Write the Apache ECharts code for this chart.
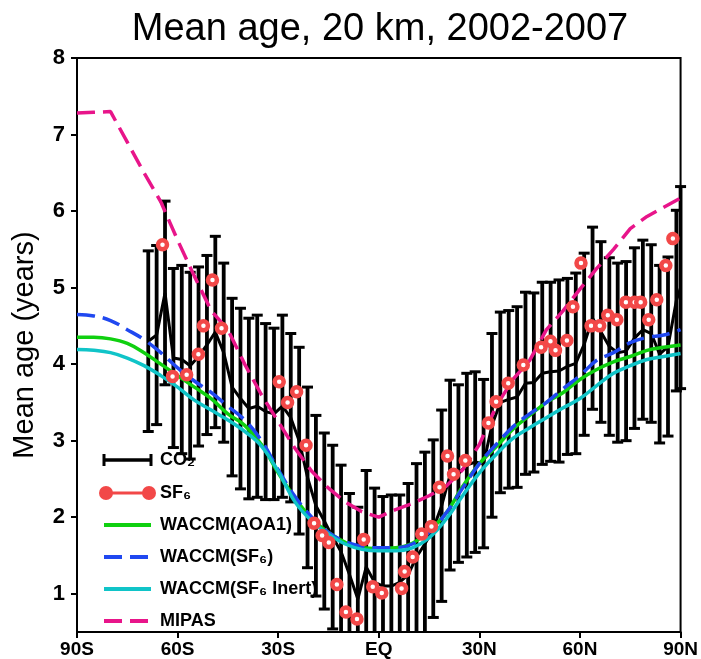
<!DOCTYPE html>
<html><head><meta charset="utf-8">
<script src="https://cdn.jsdelivr.net/npm/echarts@6/dist/echarts.min.js"></script>
<style>html,body{margin:0;padding:0;background:#fff}#c{width:701px;height:659px}</style>
</head><body><div id="c"></div>
<script>
// ---- axis ticks ----
const xTickValues = [-90, -60, -30, 0, 30, 60, 90];
const xTickLabels = ['90S', '60S', '30S', 'EQ', '30N', '60N', '90N'];
const yTickValues = [1, 2, 3, 4, 5, 6, 7, 8];

// ---- CO2 (mean and half-width of error bar) ----
const co2Lat = [-68.75, -66.25, -63.75, -61.25, -58.75, -56.25, -53.75, -51.25, -48.75, -46.25,
  -43.75, -41.25, -38.75, -36.25, -33.75, -31.25, -28.75, -26.25, -23.75, -21.25,
  -18.75, -16.25, -13.75, -11.25, -8.75, -6.25, -3.75, -1.25, 1.25, 3.75,
  6.25, 8.75, 11.25, 13.75, 16.25, 18.75, 21.25, 23.75, 26.25, 28.75,
  31.25, 33.75, 36.25, 38.75, 41.25, 43.75, 46.25, 48.75, 51.25, 53.75,
  56.25, 58.75, 61.25, 63.75, 66.25, 68.75, 71.25, 73.75, 76.25, 78.75,
  81.25, 83.75, 86.25, 88.75, 90];
const co2Mean = [4.30, 4.38, 4.93, 4.08, 4.06, 3.98, 4.10, 4.25, 4.42, 4.15,
  3.70, 3.55, 3.42, 3.45, 3.38, 3.35, 3.45, 3.30, 3.00, 2.52,
  2.15, 1.95, 1.74, 1.55, 1.25, 0.93, 1.35, 1.15, 1.10, 1.10,
  1.15, 1.25, 1.48, 1.65, 1.85, 2.15, 2.55, 2.57, 2.68, 2.72,
  2.70, 3.20, 3.50, 3.54, 3.57, 3.75, 3.76, 3.88, 3.90, 3.91,
  3.97, 4.01, 4.26, 4.60, 4.42, 4.23, 4.15, 4.17, 4.34, 4.45,
  4.40, 4.13, 4.23, 4.83, 5.00];
const co2Err = [1.18, 1.17, 1.20, 1.17, 1.23, 1.22, 1.17, 1.17, 1.25, 1.17,
  1.16, 1.18, 1.18, 1.19, 1.15, 1.12, 1.19, 1.10, 1.22, 1.18,
  1.18, 1.15, 1.20, 1.13, 1.06, 1.20, 1.26, 1.23, 1.17, 1.19,
  1.14, 1.19, 1.22, 1.20, 1.16, 1.25, 1.24, 1.16, 1.20, 1.18,
  1.10, 1.20, 1.18, 1.16, 1.18, 1.19, 1.17, 1.19, 1.17, 1.19,
  1.15, 1.18, 1.19, 1.19, 1.18, 1.16, 1.17, 1.17, 1.18, 1.17,
  1.16, 1.16, 1.17, 1.18, 1.32];

// ---- SF6 observations ----
const sf6Lat = [-64.5, -61.5, -57.3, -53.8, -52.3, -49.6, -46.9, -29.7, -27.2, -24.5,
  -21.7, -19.3, -16.9, -14.9, -12.5, -9.8, -6.5, -4.5, -1.8, 0.9,
  6.8, 7.7, 10.1, 12.8, 15.7, 18.1, 20.5, 22.3, 25.8, 32.7,
  35.0, 38.6, 43.1, 48.4, 51.2, 52.7, 56.1, 57.9, 60.3, 63.3,
  65.9, 68.3, 71.0, 73.7, 76.3, 78.1, 80.5, 82.9, 85.6, 87.7];
const sf6Val = [5.56, 3.84, 3.86, 4.13, 4.50, 5.10, 4.47, 3.77, 3.50, 3.64,
  2.94, 1.92, 1.76, 1.67, 1.12, 0.76, 0.67, 1.71, 1.09, 1.01,
  1.07, 1.29, 1.48, 1.78, 1.88, 2.39, 2.80, 2.56, 2.74, 3.23,
  3.51, 3.75, 3.99, 4.22, 4.30, 4.18, 4.31, 4.75, 5.32, 4.50,
  4.50, 4.64, 4.58, 4.81, 4.81, 4.81, 4.58, 4.84, 5.29, 5.64];

// ---- model curves and MIPAS ----
const modelLat = [-90, -85, -80, -75, -70, -65, -60, -55, -50, -45, -40, -35, -30, -25, -20, -15, -10, -5, 0,
  5, 10, 15, 20, 25, 30, 35, 40, 45, 50, 55, 60, 65, 70, 75, 80, 85, 90];
const waccmAoa1 = [4.35, 4.35, 4.33, 4.27, 4.15, 4.00, 3.85, 3.70, 3.55, 3.35, 3.20, 2.95, 2.58, 2.25, 1.98, 1.80, 1.67, 1.60, 1.59,
  1.60, 1.66, 1.82, 2.05, 2.40, 2.70, 2.92, 3.15, 3.33, 3.50, 3.63, 3.80, 3.93, 4.03, 4.10, 4.18, 4.22, 4.25];
const waccmSf6 = [4.65, 4.63, 4.57, 4.45, 4.32, 4.15, 3.95, 3.78, 3.63, 3.45, 3.27, 3.00, 2.62, 2.27, 2.00, 1.80, 1.68, 1.62, 1.60,
  1.60, 1.65, 1.80, 2.05, 2.38, 2.70, 2.95, 3.18, 3.35, 3.50, 3.68, 3.85, 4.05, 4.15, 4.28, 4.35, 4.38, 4.45];
const waccmSf6Inert = [4.19, 4.18, 4.15, 4.08, 3.98, 3.85, 3.70, 3.53, 3.40, 3.27, 3.12, 2.93, 2.60, 2.20, 1.95, 1.78, 1.65, 1.58, 1.56,
  1.56, 1.60, 1.73, 1.97, 2.28, 2.58, 2.82, 3.03, 3.17, 3.30, 3.43, 3.55, 3.72, 3.88, 3.98, 4.06, 4.10, 4.14];
const mipas = [7.28, 7.29, 7.30, 6.90, 6.50, 6.12, 5.62, 5.15, 4.70, 4.45, 4.00, 3.60, 3.25, 2.90, 2.60, 2.38, 2.20, 2.07, 2.00,
  2.10, 2.18, 2.28, 2.40, 2.62, 2.95, 3.45, 3.80, 4.05, 4.45, 4.70, 4.98, 5.25, 5.50, 5.77, 5.93, 6.05, 6.17];

const C_RED = '#f24848', C_GREEN = '#10d010', C_BLUE = '#2048f0', C_CYAN = '#10c4c8', C_MAG = '#e8158a';
const FONT = 'Liberation Sans';

const pairs = (xs, ys) => xs.map((x, i) => [x, ys[i]]);
const co2Bars = co2Lat.map((l, i) => [l, co2Mean[i] - co2Err[i], co2Mean[i] + co2Err[i]]);

const chart = echarts.init(document.getElementById('c'), null, {renderer: 'canvas'});

const legendRows = [
  {y: 460, text: 'CO₂'},
  {y: 493, text: 'SF₆'},
  {y: 525, text: 'WACCM(AOA1)'},
  {y: 557, text: 'WACCM(SF₆)'},
  {y: 589, text: 'WACCM(SF₆ Inert)'},
  {y: 621, text: 'MIPAS'}
];
const LX0 = 104, LX1 = 151;
const legendGraphics = [];
legendGraphics.push({type: 'line', shape: {x1: LX0, y1: 460, x2: LX1, y2: 460}, style: {stroke: '#000', lineWidth: 3.5}, z: 100});
legendGraphics.push({type: 'line', shape: {x1: LX0, y1: 454, x2: LX0, y2: 466}, style: {stroke: '#000', lineWidth: 3}, z: 100});
legendGraphics.push({type: 'line', shape: {x1: LX1, y1: 454, x2: LX1, y2: 466}, style: {stroke: '#000', lineWidth: 3}, z: 100});
legendGraphics.push({type: 'line', shape: {x1: LX0, y1: 493, x2: LX1, y2: 493}, style: {stroke: C_RED, lineWidth: 3}, z: 100});
legendGraphics.push({type: 'circle', shape: {cx: LX0 + 2, cy: 493, r: 7}, style: {fill: C_RED}, z: 100});
legendGraphics.push({type: 'circle', shape: {cx: LX1 - 2, cy: 493, r: 7}, style: {fill: C_RED}, z: 100});
legendGraphics.push({type: 'line', shape: {x1: LX0, y1: 525, x2: LX1, y2: 525}, style: {stroke: C_GREEN, lineWidth: 4}, z: 100});
legendGraphics.push({type: 'line', shape: {x1: LX0, y1: 557, x2: LX1, y2: 557}, style: {stroke: C_BLUE, lineWidth: 4, lineDash: [18, 8]}, z: 100});
legendGraphics.push({type: 'line', shape: {x1: LX0, y1: 589, x2: LX1, y2: 589}, style: {stroke: C_CYAN, lineWidth: 4}, z: 100});
legendGraphics.push({type: 'line', shape: {x1: LX0, y1: 621, x2: LX1, y2: 621}, style: {stroke: C_MAG, lineWidth: 4, lineDash: [18, 8]}, z: 100});
legendRows.forEach(r => {
  legendGraphics.push({type: 'text', x: 160, y: r.y, style: {text: r.text, fill: '#000', font: 'bold 18px "' + FONT + '"', verticalAlign: 'middle', align: 'left'}, z: 100});
});
// title centred over the plot frame
legendGraphics.push({type: 'text', x: 380, y: 30, style: {text: 'Mean age, 20 km, 2002-2007', fill: '#000', font: '38px "' + FONT + '"', verticalAlign: 'middle', align: 'center'}, z: 100});

chart.setOption({
  animation: false,
  backgroundColor: '#fff',
  grid: {left: 77, right: 18, top: 58, bottom: 27, show: true, borderColor: '#000', borderWidth: 2, backgroundColor: 'transparent'},
  xAxis: {
    type: 'value', min: -90, max: 90, interval: 30,
    axisLine: {show: true, onZero: false, lineStyle: {color: '#000', width: 2}},
    axisTick: {show: true, length: 6, inside: false, lineStyle: {color: '#000', width: 2}},
    splitLine: {show: false},
    axisLabel: {
      margin: 8, color: '#000', fontFamily: FONT, fontWeight: 'bold', fontSize: 19,
      formatter: v => { const i = xTickValues.indexOf(v); return i >= 0 ? xTickLabels[i] : ''; }
    }
  },
  yAxis: {
    type: 'value', min: 0.5, max: 8,
    name: 'Mean age (years)', nameLocation: 'middle', nameGap: 38, nameRotate: 90,
    nameTextStyle: {fontFamily: FONT, fontSize: 29, color: '#000'},
    axisLine: {show: true, onZero: false, lineStyle: {color: '#000', width: 2}},
    axisTick: {show: true, length: 6, customValues: yTickValues, lineStyle: {color: '#000', width: 2}},
    splitLine: {show: false},
    axisLabel: {
      customValues: yTickValues, margin: 12, color: '#000', fontFamily: FONT, fontWeight: 'bold', fontSize: 22
    }
  },
  graphic: legendGraphics,
  series: [
    {
      type: 'custom', name: 'CO2 error', data: co2Bars, encode: {x: 0, y: [1, 2]}, z: 2,
      renderItem: function (params, api) {
        const x = api.value(0), lo = api.value(1), hi = api.value(2);
        const cs = params.coordSys;
        const pHi = api.coord([x, hi]);
        const pLo = api.coord([x, lo]);
        const top = cs.y, bottom = cs.y + cs.height;
        const yHi = Math.max(pHi[1], top), yLo = Math.min(pLo[1], bottom);
        const children = [{type: 'line', shape: {x1: pHi[0], y1: yHi, x2: pHi[0], y2: yLo}, style: {stroke: '#000', lineWidth: 3.8}}];
        const hw = 5.5;
        if (pHi[1] >= top) children.push({type: 'line', shape: {x1: pHi[0] - hw, y1: pHi[1], x2: pHi[0] + hw, y2: pHi[1]}, style: {stroke: '#000', lineWidth: 3}});
        if (pLo[1] <= bottom) children.push({type: 'line', shape: {x1: pLo[0] - hw, y1: pLo[1], x2: pLo[0] + hw, y2: pLo[1]}, style: {stroke: '#000', lineWidth: 3}});
        return {type: 'group', children: children};
      }
    },
    {type: 'line', name: 'CO2', data: pairs(co2Lat, co2Mean), showSymbol: false, z: 3,
      lineStyle: {color: '#000', width: 3}},
    {type: 'line', name: 'WACCM(AOA1)', data: pairs(modelLat, waccmAoa1), showSymbol: false, smooth: 0.4, z: 4,
      lineStyle: {color: C_GREEN, width: 3.5}},
    {type: 'line', name: 'WACCM(SF6)', data: pairs(modelLat, waccmSf6), showSymbol: false, smooth: 0.4, z: 5,
      lineStyle: {color: C_BLUE, width: 3.5, type: [18, 8]}},
    {type: 'line', name: 'WACCM(SF6 Inert)', data: pairs(modelLat, waccmSf6Inert), showSymbol: false, smooth: 0.4, z: 5,
      lineStyle: {color: C_CYAN, width: 3.5}},
    {type: 'line', name: 'MIPAS', data: pairs(modelLat, mipas), showSymbol: false, z: 6,
      lineStyle: {color: C_MAG, width: 3.5, type: [18, 8]}},
    {type: 'scatter', name: 'SF6', data: pairs(sf6Lat, sf6Val), symbol: 'circle', symbolSize: 9, z: 8,
      itemStyle: {color: '#fff', borderColor: C_RED, borderWidth: 4.5, opacity: 1}}
  ]
});
</script>
</body></html>
